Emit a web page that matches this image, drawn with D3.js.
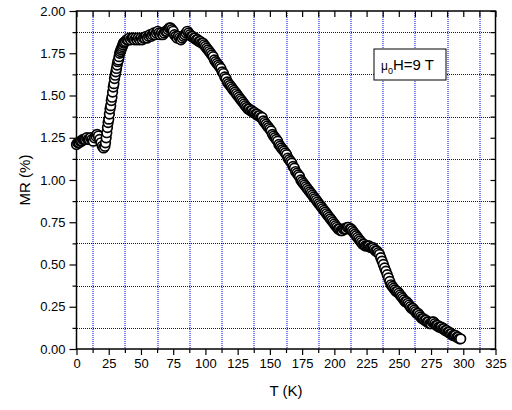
<!DOCTYPE html>
<html>
<head>
<meta charset="utf-8">
<script src="https://cdn.jsdelivr.net/npm/d3@7"></script>
<style>
  body { margin: 0; background: #fff; }
  svg { display: block; font-family: "Liberation Sans", Arial, sans-serif; }
</style>
</head>
<body>
<div id="chart"></div>
<script>
// temperature (K) and magnetoresistance (%)
const tempK = [
  0, 1, 2, 3, 4, 5, 6, 7, 8, 9, 10, 11, 12, 13, 14, 15, 16, 17, 18, 19, 20, 21, 22,
  22.5, 23, 23.5, 24, 24.5, 25, 25.5, 26, 26.5, 27, 27.5, 28, 28.5, 29, 29.5, 30,
  30.5, 31, 31.5, 32, 32.5, 33, 33.5, 34, 34.5, 35, 35.5, 36, 36.5, 37, 38, 39, 40,
  41, 42, 43, 44, 45, 46, 47, 48, 49, 50, 51, 52, 53, 54, 55, 56, 57, 58, 59, 60,
  61, 62, 63, 64, 65, 66, 67, 68, 69, 70, 71, 72, 73, 74, 75, 76, 77, 78, 79, 80,
  81, 82, 83, 84, 85, 86, 87, 88, 89, 90, 91, 92, 93, 94, 95, 96, 97, 98, 99, 100,
  101, 102, 103, 104, 105, 106, 107, 108, 109, 110, 111, 112, 113, 114, 115, 116, 117, 118, 119, 120,
  121, 122, 123, 124, 125, 126, 127, 128, 129, 130, 131, 132, 133, 134, 135, 136, 137, 138, 139, 140,
  141, 142, 143, 144, 145, 146, 147, 148, 149, 150, 151, 152, 153, 154, 155, 156, 157, 158, 159, 160,
  161, 162, 163, 164, 165, 166, 167, 168, 169, 170, 171, 172, 173, 174, 175, 176, 177, 178, 179, 180,
  181, 182, 183, 184, 185, 186, 187, 188, 189, 190, 191, 192, 193, 194, 195, 196, 197, 198, 199, 200,
  201, 202, 203, 204, 205, 206, 207, 208, 209, 210, 211, 212, 213, 214, 215, 216, 217, 218, 219, 220,
  221, 222, 223, 224, 225, 226, 227, 228, 229, 230, 231, 232, 233, 234, 235, 236, 237, 238, 239, 240,
  241, 242, 243, 244, 245, 246, 247, 248, 249, 250, 251, 252, 253, 254, 255, 256, 257, 258, 259, 260,
  261, 262, 263, 264, 265, 266, 267, 268, 269, 270, 271, 272, 273, 274, 275, 276, 277, 278, 279, 280,
  281, 282, 283, 284, 285, 286, 287, 288, 289, 290, 291, 292, 293, 294, 295, 296, 297, 298
];
const mrPct = [
  1.21, 1.22, 1.22, 1.23, 1.23, 1.24, 1.24, 1.24, 1.25, 1.24, 1.24, 1.25, 1.24, 1.23, 1.25, 1.26, 1.27, 1.26, 1.24, 1.22, 1.20, 1.19, 1.20,
  1.22, 1.25, 1.28, 1.31, 1.34, 1.36, 1.39, 1.42, 1.44, 1.47, 1.49, 1.52, 1.55, 1.57, 1.60, 1.62,
  1.64, 1.66, 1.68, 1.70, 1.71, 1.73, 1.75, 1.76, 1.77, 1.78, 1.79, 1.80, 1.81, 1.815, 1.82, 1.83, 1.83,
  1.84, 1.83, 1.84, 1.84, 1.83, 1.84, 1.83, 1.84, 1.83, 1.84, 1.83, 1.84, 1.84, 1.85, 1.84, 1.85, 1.86, 1.85, 1.86, 1.87,
  1.86, 1.87, 1.88, 1.87, 1.86, 1.87, 1.86, 1.87, 1.88, 1.88, 1.89, 1.90, 1.90, 1.89, 1.88, 1.86, 1.85, 1.84, 1.85, 1.84,
  1.83, 1.84, 1.85, 1.86, 1.87, 1.88, 1.87, 1.86, 1.85, 1.85, 1.84, 1.84, 1.83, 1.83, 1.82, 1.82, 1.81, 1.81, 1.80, 1.79,
  1.78, 1.77, 1.76, 1.75, 1.74, 1.73, 1.71, 1.70, 1.69, 1.68, 1.67, 1.66, 1.64, 1.63, 1.61, 1.60, 1.58, 1.57, 1.56, 1.55,
  1.54, 1.53, 1.52, 1.51, 1.50, 1.49, 1.48, 1.47, 1.46, 1.45, 1.44, 1.43, 1.42, 1.42, 1.41, 1.41, 1.40, 1.40, 1.39, 1.39,
  1.38, 1.38, 1.37, 1.37, 1.35, 1.34, 1.33, 1.32, 1.31, 1.30, 1.29, 1.27, 1.26, 1.25, 1.24, 1.23, 1.21, 1.20, 1.19, 1.18,
  1.17, 1.16, 1.15, 1.13, 1.12, 1.11, 1.10, 1.08, 1.07, 1.05, 1.04, 1.03, 1.02, 1.00, 0.99, 0.98, 0.97, 0.96, 0.95, 0.94,
  0.93, 0.92, 0.91, 0.90, 0.89, 0.88, 0.87, 0.86, 0.85, 0.84, 0.83, 0.82, 0.81, 0.80, 0.79, 0.78, 0.77, 0.76, 0.75, 0.74,
  0.73, 0.72, 0.71, 0.71, 0.70, 0.70, 0.71, 0.71, 0.71, 0.72, 0.72, 0.71, 0.71, 0.70, 0.69, 0.68, 0.67, 0.66, 0.65, 0.64,
  0.63, 0.62, 0.62, 0.61, 0.61, 0.61, 0.61, 0.60, 0.60, 0.60, 0.59, 0.58, 0.58, 0.57, 0.56, 0.54, 0.52, 0.50, 0.48, 0.46,
  0.44, 0.42, 0.40, 0.38, 0.37, 0.36, 0.35, 0.34, 0.34, 0.33, 0.32, 0.31, 0.30, 0.29, 0.28, 0.28, 0.27, 0.26, 0.25, 0.24,
  0.24, 0.23, 0.22, 0.21, 0.21, 0.20, 0.19, 0.18, 0.18, 0.17, 0.17, 0.16, 0.16, 0.15, 0.15, 0.16, 0.16, 0.15, 0.14, 0.14,
  0.13, 0.13, 0.13, 0.12, 0.12, 0.11, 0.11, 0.10, 0.10, 0.09, 0.09, 0.08, 0.08, 0.08, 0.07, 0.07, 0.06, 0.06, 0.05
];

const xMajor = d3.range(0, 326, 25);
const xMinor = d3.range(12.5, 325, 25);
const yMajor = d3.range(0, 2.001, 0.25);
const yMinor = d3.range(0.125, 2, 0.25);
const fieldLabel = { mu: "\u03bc", sub: "0", rest: "H=9 T" };

const width = 512, height = 410;
const margin = { top: 11, right: 16.5, bottom: 61, left: 76.5 };
const w = width - margin.left - margin.right;
const h = height - margin.top - margin.bottom;

const svg = d3.select("#chart").append("svg")
  .attr("width", width)
  .attr("height", height);

const g = svg.append("g")
  .attr("transform", `translate(${margin.left},${margin.top})`);

const x = d3.scaleLinear().domain([0, 325]).range([0, w]);
const y = d3.scaleLinear().domain([0, 2]).range([h, 0]);

// dotted blue grid (sits on the minor ticks)
const gridColor = "#0000d8";
g.append("g").selectAll("line").data(xMinor).enter().append("line")
  .attr("x1", d => Math.round(x(d)) + 0.5).attr("x2", d => Math.round(x(d)) + 0.5)
  .attr("y1", 0).attr("y2", h)
  .attr("stroke", gridColor).attr("stroke-width", 1).attr("stroke-dasharray", "1 1");
g.append("g").selectAll("line").data(yMinor).enter().append("line")
  .attr("y1", d => Math.round(y(d)) + 0.5).attr("y2", d => Math.round(y(d)) + 0.5)
  .attr("x1", 0.5).attr("x2", w)
  .attr("stroke", gridColor).attr("stroke-width", 1).attr("stroke-dasharray", "1 1");

// axes
function styleAxis(sel) {
  sel.select(".domain").remove();
  sel.selectAll("line").attr("stroke", "#000").attr("stroke-width", 1.2);
  sel.selectAll("text").attr("fill", "#000").style("font-size", "13px");
}

g.append("g").attr("transform", `translate(0,${h})`)
  .call(d3.axisBottom(x).tickValues(xMajor).tickSize(6).tickPadding(4).tickFormat(d3.format("d")))
  .call(styleAxis);
g.append("g").attr("transform", `translate(0,${h})`)
  .call(d3.axisBottom(x).tickValues(xMinor).tickSize(4).tickFormat(""))
  .call(styleAxis);
g.append("g")
  .call(d3.axisTop(x).tickValues(xMajor.concat(xMinor)).tickSize(-6).tickFormat(""))
  .call(styleAxis);

g.append("g")
  .call(d3.axisLeft(y).tickValues(yMajor).tickSize(7).tickPadding(4).tickFormat(d3.format(".2f")))
  .call(styleAxis);
g.append("g")
  .call(d3.axisLeft(y).tickValues(yMinor).tickSize(4).tickFormat(""))
  .call(styleAxis);
g.append("g").attr("transform", `translate(${w},0)`)
  .call(d3.axisRight(y).tickValues(yMajor.concat(yMinor)).tickSize(-5).tickFormat(""))
  .call(styleAxis);

// frame
g.append("rect")
  .attr("width", w).attr("height", h)
  .attr("fill", "none").attr("stroke", "#000").attr("stroke-width", 1.5);

// data points: open circles
const points = tempK.map((t, i) => ({ t, v: mrPct[i] }));
g.append("g").selectAll("circle").data(points).enter().append("circle")
  .attr("cx", d => x(d.t))
  .attr("cy", d => y(d.v))
  .attr("r", 4.8)
  .attr("fill", "#fff")
  .attr("stroke", "#000")
  .attr("stroke-width", 1.7);

// axis titles
svg.append("text")
  .attr("x", margin.left + w / 2).attr("y", 396)
  .attr("text-anchor", "middle").style("font-size", "15px")
  .text("T (K)");
svg.append("text")
  .attr("transform", `translate(30,${margin.top + h / 2}) rotate(-90)`)
  .attr("text-anchor", "middle").style("font-size", "15px")
  .text("MR (%)");

// field label box
const lab = g.append("g").attr("transform", `translate(${374 - margin.left},${49 - margin.top})`);
lab.append("rect").attr("width", 72).attr("height", 31)
  .attr("fill", "#fff").attr("stroke", "#000").attr("stroke-width", 1);
const lt = lab.append("text").attr("x", 7).attr("y", 21).style("font-size", "15px");
lt.append("tspan").style("font-size", "12px").text(fieldLabel.mu);
lt.append("tspan").attr("dy", 4).style("font-size", "9px").text(fieldLabel.sub);
lt.append("tspan").attr("dy", -4).text(fieldLabel.rest);
</script>
</body>
</html>
